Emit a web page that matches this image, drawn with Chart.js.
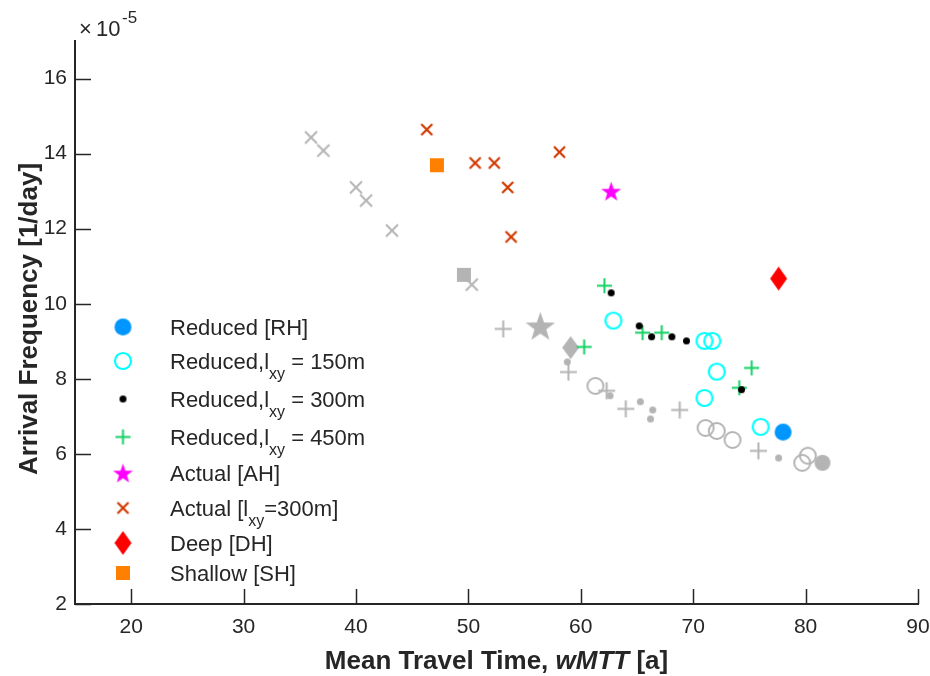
<!DOCTYPE html>
<html>
<head>
<meta charset="utf-8">
<script src="https://cdn.jsdelivr.net/npm/chart.js@4.4.1/dist/chart.umd.min.js"></script>
<style>
  html, body { margin: 0; padding: 0; background: #fff; }
  #wrap { width: 930px; height: 676px; }
</style>
</head>
<body>
<div id="wrap"><canvas id="scatterChart" width="930" height="676"></canvas></div>
<script>
// ------------------- data (y in units of 1e-5 1/day) -------------------
const xTicks = [20, 30, 40, 50, 60, 70, 80, 90];
const yTicks = [2, 4, 6, 8, 10, 12, 14, 16];

const rhPts = [[78.0, 6.58]];
const r150Pts = [[62.9, 9.55], [71.0, 9.01], [71.7, 9.01], [72.1, 8.19], [71.0, 7.49], [76.0, 6.72]];
const r300Pts = [[62.7, 10.29], [65.2, 9.41], [66.3, 9.12], [68.1, 9.12], [69.4, 9.01], [74.3, 7.71]];
const r450Pts = [[62.1, 10.48], [60.3, 8.85], [65.5, 9.23], [67.2, 9.23], [75.2, 8.29], [74.1, 7.76]];
const ahPts = [[62.7, 13.0]];
const a300Pts = [[46.3, 14.64], [50.6, 13.75], [52.3, 13.75], [53.5, 13.1], [53.8, 11.78], [58.1, 14.04]];
const dhPts = [[77.6, 10.67]];
const shPts = [[47.2, 13.69]];

// grey (unlabelled) counterparts
const grayXPts = [[36.0, 14.43], [37.1, 14.08], [40.0, 13.1], [40.9, 12.75], [43.2, 11.95], [50.3, 10.51]];
const grayCirclePts = [[61.3, 7.81], [71.1, 6.69], [72.1, 6.61], [73.5, 6.37], [79.7, 5.76], [80.2, 5.95]];
const grayDotPts = [[58.8, 8.45], [62.6, 7.55], [65.3, 7.39], [66.4, 7.17], [66.2, 6.93], [77.6, 5.89]];
const grayPlusPts = [[53.1, 9.33], [58.9, 8.18], [62.3, 7.68], [64.0, 7.2], [68.8, 7.17], [75.8, 6.08]];
const grayStarPts = [[56.4, 9.41]];
const grayDiamondPts = [[59.1, 8.83]];
const graySquarePts = [[49.6, 10.77]];
const grayBigDotPts = [[81.5, 5.76]];

// ------------------- marker images -------------------
const makeMarker = (kind, w, h, fill, stroke, lw) => {
  const pad = Math.ceil(lw || 0) + 2;
  const c = document.createElement("canvas");
  c.width = w + pad * 2;
  c.height = h + pad * 2;
  const g = c.getContext("2d");
  g.translate(c.width / 2, c.height / 2);
  g.lineWidth = lw || 1;
  g.strokeStyle = stroke || fill;
  g.fillStyle = fill || "transparent";
  g.beginPath();
  if (kind === "circle") {
    g.arc(0, 0, w / 2, 0, Math.PI * 2);
  } else if (kind === "plus") {
    g.moveTo(-w / 2, 0); g.lineTo(w / 2, 0);
    g.moveTo(0, -h / 2); g.lineTo(0, h / 2);
  } else if (kind === "x") {
    g.moveTo(-w / 2, -h / 2); g.lineTo(w / 2, h / 2);
    g.moveTo(w / 2, -h / 2); g.lineTo(-w / 2, h / 2);
  } else if (kind === "star") {
    const ro = w / 2, ri = ro * 0.4;
    for (let i = 0; i < 10; i++) {
      const r = i % 2 === 0 ? ro : ri;
      const a = -Math.PI / 2 + i * Math.PI / 5;
      const px = r * Math.cos(a), py = r * Math.sin(a) + ro * 0.1;
      if (i === 0) g.moveTo(px, py); else g.lineTo(px, py);
    }
    g.closePath();
  } else if (kind === "diamond") {
    g.moveTo(0, -h / 2); g.lineTo(w / 2, 0); g.lineTo(0, h / 2); g.lineTo(-w / 2, 0);
    g.closePath();
  } else if (kind === "square") {
    g.rect(-w / 2, -h / 2, w, h);
  }
  if (fill) g.fill();
  if (stroke) g.stroke();
  return c;
};

const GRAY = "#b4b4b4";
const mk = {
  rh: makeMarker("circle", 17, 17, "#0096ff", null, 0),
  r150: makeMarker("circle", 16, 16, null, "#00ffff", 2.2),
  r300: makeMarker("circle", 7, 7, "#000000", null, 0),
  r450: makeMarker("plus", 15, 15, null, "#14d264", 2),
  ah: makeMarker("star", 21, 21, "#ff00ff", null, 0),
  a300: makeMarker("x", 11, 11, null, "#d03a00", 2.2),
  dh: makeMarker("diamond", 17, 24, "#ff0000", null, 0),
  sh: makeMarker("square", 14, 14, "#ff8000", null, 0),
  gx: makeMarker("x", 12, 12, null, GRAY, 2),
  gCircle: makeMarker("circle", 16, 16, null, GRAY, 2),
  gDot: makeMarker("circle", 7, 7, GRAY, null, 0),
  gPlus: makeMarker("plus", 17, 17, null, GRAY, 2),
  gStar: makeMarker("star", 31, 31, GRAY, null, 0),
  gDiamond: makeMarker("diamond", 17, 23, GRAY, null, 0),
  gSquare: makeMarker("square", 14, 14, GRAY, null, 0),
  gBigDot: makeMarker("circle", 16, 16, GRAY, null, 0),
};

const toXY = (pts) => pts.map((p) => ({ x: p[0], y: p[1] }));
const series = (label, pts, marker) => ({
  label: label,
  data: toXY(pts),
  pointStyle: marker,
  pointRadius: 8,
  pointHoverRadius: 8,
  showLine: false,
});

// coloured series first so they are drawn on top
const datasets = [
  series("Reduced [RH]", rhPts, mk.rh),
  series("Reduced,lxy = 150m", r150Pts, mk.r150),
  series("Reduced,lxy = 300m", r300Pts, mk.r300),
  series("Reduced,lxy = 450m", r450Pts, mk.r450),
  series("Actual [AH]", ahPts, mk.ah),
  series("Actual [lxy=300m]", a300Pts, mk.a300),
  series("Deep [DH]", dhPts, mk.dh),
  series("Shallow [SH]", shPts, mk.sh),
  series("g-x", grayXPts, mk.gx),
  series("g-circle", grayCirclePts, mk.gCircle),
  series("g-dot", grayDotPts, mk.gDot),
  series("g-plus", grayPlusPts, mk.gPlus),
  series("g-star", grayStarPts, mk.gStar),
  series("g-diamond", grayDiamondPts, mk.gDiamond),
  series("g-square", graySquarePts, mk.gSquare),
  series("g-bigdot", grayBigDotPts, mk.gBigDot),
];

// legend rows: [marker, main text, subscript, rest, row y]
const legendRows = [
  [mk.rh, "Reduced [RH]", "", "", 327],
  [mk.r150, "Reduced,l", "xy", " = 150m", 361],
  [mk.r300, "Reduced,l", "xy", " = 300m", 399],
  [mk.r450, "Reduced,l", "xy", " = 450m", 437],
  [mk.ah, "Actual [AH]", "", "", 473],
  [mk.a300, "Actual [l", "xy", "=300m]", 508],
  [mk.dh, "Deep [DH]", "", "", 543],
  [mk.sh, "Shallow [SH]", "", "", 573],
];

const FONT = "'Liberation Sans', Arial, Helvetica, sans-serif";
const TXT = "#262626";

// ------------------- extras: ticks, legend, titles -------------------
const extras = {
  id: "extras",
  afterDraw(chart) {
    const ctx = chart.ctx;
    const xs = chart.scales.x, ys = chart.scales.y;
    const area = chart.chartArea;
    ctx.save();

    // inward ticks
    ctx.strokeStyle = TXT;
    ctx.lineWidth = 1.5;
    ctx.beginPath();
    xTicks.forEach((v) => {
      const px = Math.round(xs.getPixelForValue(v)) + 0.5;
      ctx.moveTo(px, area.bottom);
      ctx.lineTo(px, area.bottom - 15);
    });
    yTicks.forEach((v) => {
      const py = Math.round(ys.getPixelForValue(v)) + 0.5;
      ctx.moveTo(area.left, py);
      ctx.lineTo(area.left + 16, py);
    });
    ctx.stroke();

    // exponent label
    ctx.fillStyle = TXT;
    ctx.textBaseline = "alphabetic";
    ctx.textAlign = "left";
    ctx.font = "22px " + FONT;
    ctx.fillText("\u00d7", 79, 36);
    ctx.fillText("10", 96, 36);
    ctx.font = "17px " + FONT;
    ctx.fillText("-5", 122, 23);

    // legend
    legendRows.forEach((row) => {
      const [img, main, sub, rest, y] = row;
      ctx.drawImage(img, 123 - img.width / 2, y - img.height / 2);
      let x = 170;
      ctx.font = "22px " + FONT;
      ctx.fillText(main, x, y + 8);
      x += ctx.measureText(main).width;
      if (sub) {
        ctx.font = "16px " + FONT;
        ctx.fillText(sub, x, y + 18);
        x += ctx.measureText(sub).width;
        ctx.font = "22px " + FONT;
        ctx.fillText(rest, x, y + 8);
      }
    });

    // x title with italic part
    const parts = [
      ["bold ", "Mean Travel Time, "],
      ["italic bold ", "wMTT"],
      ["bold ", " [a]"],
    ];
    const size = "26px ";
    let total = 0;
    parts.forEach((p) => {
      ctx.font = p[0] + size + FONT;
      total += ctx.measureText(p[1]).width;
    });
    let tx = (area.left + area.right) / 2 - total / 2;
    parts.forEach((p) => {
      ctx.font = p[0] + size + FONT;
      ctx.fillText(p[1], tx, 669);
      tx += ctx.measureText(p[1]).width;
    });

    // y title
    ctx.translate(30, 319);
    ctx.rotate(-Math.PI / 2);
    ctx.textAlign = "center";
    ctx.textBaseline = "middle";
    ctx.font = "bold 26px " + FONT;
    ctx.fillText("Arrival Frequency [1/day]", 0, 0);

    ctx.restore();
  },
};

const ctx = document.getElementById("scatterChart").getContext("2d");

const scatterChart = new Chart(ctx, {
  type: "scatter",
  data: { datasets: datasets },
  options: {
    responsive: false,
    animation: false,
    layout: { padding: { left: 0, top: 41, right: 12, bottom: 0 } },
    plugins: {
      legend: { display: false },
      tooltip: { enabled: false },
    },
    scales: {
      x: {
        type: "linear",
        min: 15,
        max: 90,
        grid: { display: false, drawTicks: false },
        border: { display: true, color: TXT, width: 2 },
        ticks: {
          color: TXT,
          font: { family: FONT, size: 21 },
          padding: 11,
          maxRotation: 0,
        },
        afterBuildTicks: (scale) => {
          scale.ticks = xTicks.map((v) => ({ value: v }));
        },
        afterFit: (scale) => {
          scale.height = 72;
          scale.paddingLeft = 0;
          scale.paddingRight = 0;
        },
      },
      y: {
        type: "linear",
        min: 2,
        max: 17,
        grid: { display: false, drawTicks: false },
        border: { display: true, color: TXT, width: 2 },
        ticks: {
          color: TXT,
          font: { family: FONT, size: 21 },
          padding: 8,
        },
        afterBuildTicks: (scale) => {
          scale.ticks = yTicks.map((v) => ({ value: v }));
        },
        afterFit: (scale) => {
          scale.width = 75;
          scale.paddingTop = 0;
          scale.paddingBottom = 0;
        },
      },
    },
  },
  plugins: [extras],
});
</script>
</body>
</html>
